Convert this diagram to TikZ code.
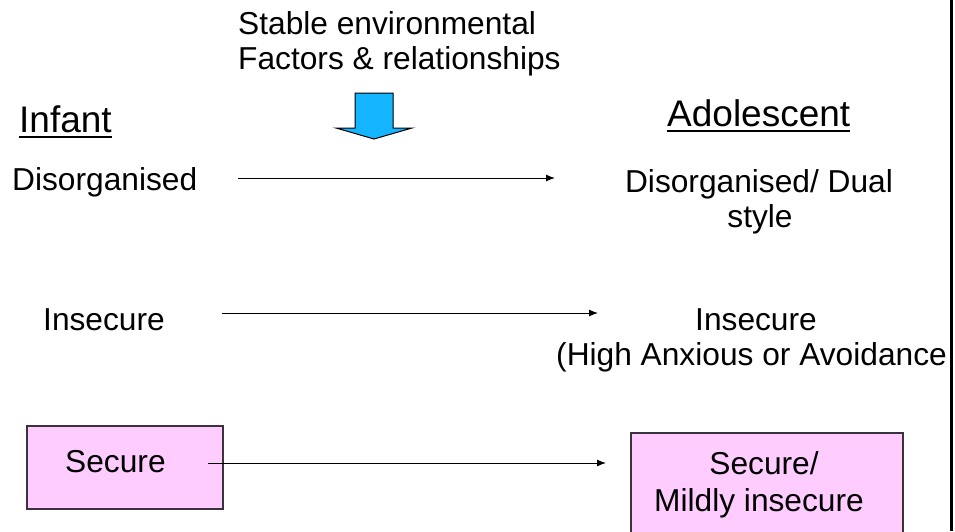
\documentclass[tikz,border=0pt]{standalone}
\usepackage{fontspec}
\setmainfont{Liberation Sans}
\usetikzlibrary{arrows.meta}
\definecolor{boxpink}{RGB}{255,204,255}
\definecolor{arrowblue}{RGB}{20,180,255}
\definecolor{boxedge}{RGB}{60,50,60}
\tikzset{
  txt/.style={inner sep=0pt, font=\fontsize{31.7}{35}\selectfont},
  head/.style={inner sep=0pt, font=\fontsize{37}{40}\selectfont},
  uline/.style={line width=2.4pt},
  conn/.style={line width=1pt, -{Latex[length=9pt,width=7pt]}},
  pinkbox/.style={draw=boxedge, fill=boxpink, line width=1.3pt},
}
\begin{document}
\begin{tikzpicture}[x=1pt,y=-1pt]
\useasboundingbox (0,0) rectangle (955,531);
\clip (0,0) rectangle (955,531);
\fill[white] (0,0) rectangle (955,531);

% boxes
\draw[pinkbox] (27,426) rectangle (223,509);
\draw[pinkbox] (631,433) rectangle (903,545);

% top text and block arrow
\node[txt, anchor=base west] (st1) at (238,34) {Stable environmental};
\node[txt, anchor=base west] (st2) at (238,69) {Factors \& relationships};
\draw[black, line width=1pt, fill=arrowblue]
  (355,93) -- (393,93) -- (393,128) -- (412,128) -- (374,139) -- (336,128) -- (355,128) -- cycle;

% headings
\node[head, anchor=base west] (inf) at (19,132) {Infant};
\draw[uline] ([yshift=-5pt]inf.base west) -- ([yshift=-5pt]inf.base east);
\node[head, anchor=base west] (ado) at (667,126) {Adolescent};
\draw[uline] ([yshift=-5pt]ado.base west) -- ([yshift=-5pt]ado.base east);

% left column
\node[txt, anchor=base west] (ldis) at (12,190) {Disorganised};
\node[txt, anchor=base west] (lins) at (43,330) {Insecure};
\node[txt, anchor=base west] (lsec) at (65,472) {Secure};

% right column
\node[txt, anchor=base] (rdis1) at (759,192) {Disorganised/ Dual};
\node[txt, anchor=base] (rdis2) at (760,227) {style};
\node[txt, anchor=base] (rins1) at (756,330) {Insecure};
\node[txt, anchor=base west] (rins2) at (556,365) {(High Anxious or Avoidance};
\node[txt, anchor=base] (rsec1) at (764,474) {Secure/};
\node[txt, anchor=base] (rsec2) at (759,511) {Mildly insecure};

% connectors
\coordinate (a1s) at (238,178);
\coordinate (a1e) at (555,178);
\coordinate (a2s) at (222,313);
\coordinate (a2e) at (598,313);
\coordinate (a3s) at (208,463);
\coordinate (a3e) at (606,463);
\draw[conn] (a1s) -- (a1e);
\draw[conn] (a2s) -- (a2e);
\draw[conn] (a3s) -- (a3e);

% right border line
\coordinate (vt) at (951,0);
\coordinate (vb) at (951,531);
\draw[line width=3pt] (vt) -- (vb);
\end{tikzpicture}
\end{document}
